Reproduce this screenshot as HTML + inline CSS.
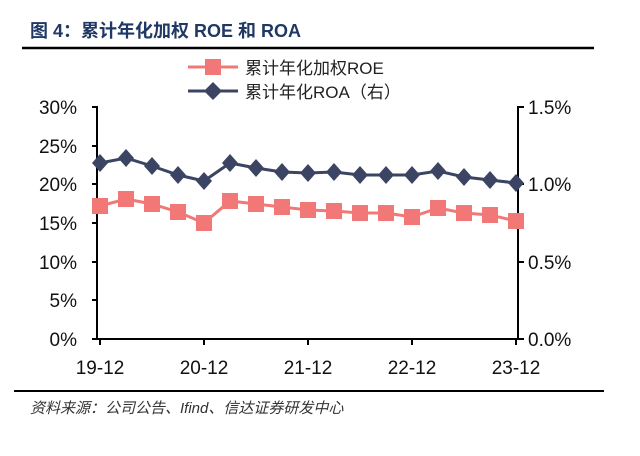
<!DOCTYPE html>
<html><head><meta charset="utf-8"><style>
body{margin:0;background:#fff;width:640px;height:451px;overflow:hidden}
svg text{font-family:"Liberation Sans","Noto Sans CJK SC",sans-serif}
</style></head><body>
<svg width="640" height="451" viewBox="0 0 640 451">
<text x="30" y="37" font-size="18" font-weight="bold" fill="#1f3864">图 4：累计年化加权 ROE 和 ROA</text>
<line x1="22" y1="48" x2="594" y2="48" stroke="#000" stroke-width="2.5"/>
<g>
<line x1="188" y1="67" x2="238" y2="67" stroke="#f27878" stroke-width="3"/>
<rect x="205" y="59" width="16" height="16" fill="#f27878"/>
<text x="245" y="74" font-size="17" fill="#222">累计年化加权ROE</text>
<line x1="188" y1="91" x2="238" y2="91" stroke="#3b4563" stroke-width="3"/>
<polygon points="213,82 222,91 213,100 204,91" fill="#3b4563"/>
<text x="245" y="98" font-size="17" fill="#222">累计年化ROA（右）</text>
</g>
<g font-size="19" fill="#111" text-anchor="end">
<text x="77" y="114">30%</text><text x="77" y="153">25%</text><text x="77" y="191">20%</text>
<text x="77" y="230">15%</text><text x="77" y="269">10%</text><text x="77" y="307">5%</text><text x="77" y="346">0%</text>
</g>
<g font-size="19" fill="#111">
<text x="528" y="114">1.5%</text><text x="528" y="191">1.0%</text><text x="528" y="269">0.5%</text><text x="528" y="346">0.0%</text>
</g>
<g stroke="#000" stroke-width="2" fill="none">
<path d="M92,107H97V339M92,146H97M92,184H97M92,223H97M92,262H97M92,300H97M92,339H97"/>
<path d="M524,107H518V339M524,184H518M524,262H518M524,339H518"/>
<path d="M97,339H518M100,339v6M204,339v6M308,339v6M412,339v6M516,339v6"/>
</g>
<g font-size="19" fill="#111" text-anchor="middle">
<text x="100" y="374">19-12</text><text x="204" y="374">20-12</text><text x="308" y="374">21-12</text><text x="412" y="374">22-12</text><text x="516" y="374">23-12</text>
</g>
<polyline fill="none" stroke="#3b4563" stroke-width="3" points="100,163 126,158 152,166 178,175 204,181 230,163 256,168 282,172 308,173 334,172 360,175 386,175 412,175 438,171 464,177 490,180 516,183"/>
<g fill="#3b4563">
<polygon points="100,154 108,163 100,172 92,163"/><polygon points="126,149 134,158 126,167 118,158"/><polygon points="152,157 160,166 152,175 144,166"/><polygon points="178,166 186,175 178,184 170,175"/><polygon points="204,172 212,181 204,190 196,181"/><polygon points="230,154 238,163 230,172 222,163"/><polygon points="256,159 264,168 256,177 248,168"/><polygon points="282,163 290,172 282,181 274,172"/><polygon points="308,164 316,173 308,182 300,173"/><polygon points="334,163 342,172 334,181 326,172"/><polygon points="360,166 368,175 360,184 352,175"/><polygon points="386,166 394,175 386,184 378,175"/><polygon points="412,166 420,175 412,184 404,175"/><polygon points="438,162 446,171 438,180 430,171"/><polygon points="464,168 472,177 464,186 456,177"/><polygon points="490,171 498,180 490,189 482,180"/><polygon points="516,174 524,183 516,192 508,183"/>
</g>
<polyline fill="none" stroke="#f27878" stroke-width="3" points="100,206 126,199 152,204 178,212 204,223 230,201 256,204 282,207 308,210 334,211 360,213 386,213 412,217 438,208 464,213 490,215 516,221"/>
<g fill="#f27878">
<rect x="92" y="198" width="16" height="16"/><rect x="118" y="191" width="16" height="16"/><rect x="144" y="196" width="16" height="16"/><rect x="170" y="204" width="16" height="16"/><rect x="196" y="215" width="16" height="16"/><rect x="222" y="193" width="16" height="16"/><rect x="248" y="196" width="16" height="16"/><rect x="274" y="199" width="16" height="16"/><rect x="300" y="202" width="16" height="16"/><rect x="326" y="203" width="16" height="16"/><rect x="352" y="205" width="16" height="16"/><rect x="378" y="205" width="16" height="16"/><rect x="404" y="209" width="16" height="16"/><rect x="430" y="200" width="16" height="16"/><rect x="456" y="205" width="16" height="16"/><rect x="482" y="207" width="16" height="16"/><rect x="508" y="213" width="16" height="16"/>
</g>
<line x1="14" y1="391" x2="604" y2="391" stroke="#000" stroke-width="2"/>
<text x="30" y="413" font-size="15" font-style="italic" fill="#333">资料来源：公司公告、Ifind、信达证券研发中心</text>
</svg>
</body></html>
